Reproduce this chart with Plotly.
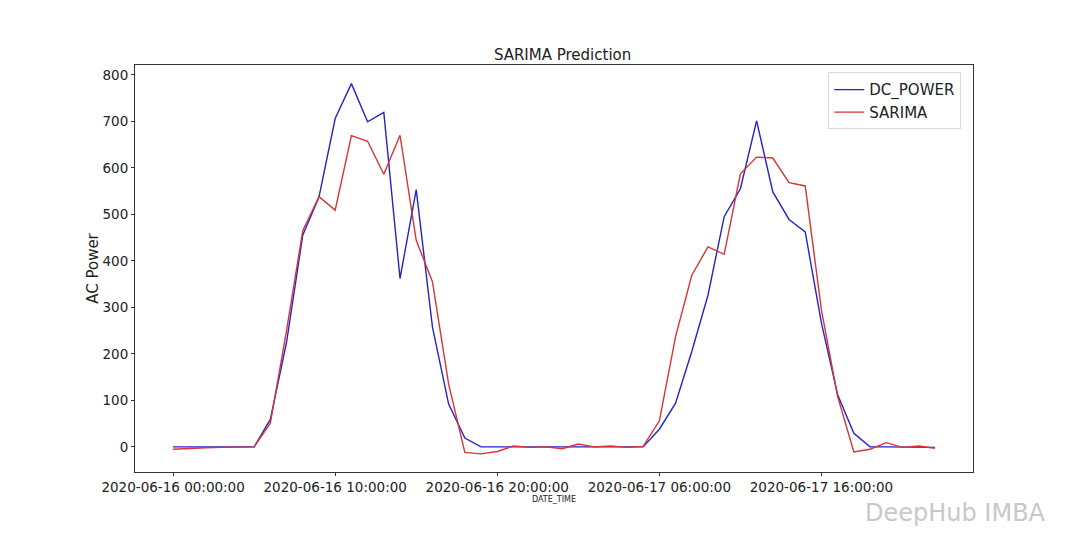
import pandas as pd
import plotly.graph_objects as go

hours = list(range(48))
timestamps = [pd.Timestamp("2020-06-16 00:00:00") + pd.Timedelta(hours=h) for h in hours]

dc_power = [0, 0, 0, 0, 0, 0, 59, 225, 455, 537, 706, 781, 699, 719, 362, 553,
            258, 92, 19, 0, 0, 0, 0, 0, 0, 0, 0, 0, 0, 0, 38, 94,
            205, 326, 495, 555, 701, 548, 489, 462, 266, 112, 29, 0, 0, 0, 0, -1]
sarima = [-5, -3, -2, -1, -1, 0, 51, 250, 465, 538, 509, 669, 657, 586, 670, 444,
          355, 135, -12, -15, -10, 2, -1, 0, -4, 6, 0, 2, -1, 1, 56, 237,
          369, 430, 414, 587, 623, 621, 568, 561, 294, 108, -11, -5, 9, -1, 2, -3]

tick_vals = [pd.Timestamp(s) for s in ["2020-06-16 00:00:00", "2020-06-16 10:00:00",
                                       "2020-06-16 20:00:00", "2020-06-17 06:00:00",
                                       "2020-06-17 16:00:00"]]
tick_text = [t.strftime("%Y-%m-%d %H:%M:%S") for t in tick_vals]
y_ticks = [0, 100, 200, 300, 400, 500, 600, 700, 800]

font_family = "DejaVu Sans, sans-serif"

fig = go.Figure()
fig.add_trace(go.Scatter(x=timestamps, y=dc_power, mode="lines", name="DC_POWER",
                         line=dict(color="#2323cc", width=1.4)))
fig.add_trace(go.Scatter(x=timestamps, y=sarima, mode="lines", name="SARIMA",
                         line=dict(color="#d83434", width=1.4)))

x0 = timestamps[0] - pd.Timedelta(hours=2.35)
x1 = timestamps[-1] + pd.Timedelta(hours=2.35)

fig.update_layout(
    width=1080, height=540,
    paper_bgcolor="white", plot_bgcolor="white",
    margin=dict(l=127, r=115, t=57, b=76),
    font=dict(family=font_family, color="#222222"),
    title=dict(text="SARIMA Prediction", x=0.5135, xanchor="center", y=0.913, yanchor="middle",
               font=dict(size=15, color="#222222")),
    showlegend=True,
    legend=dict(x=0.986, y=0.982, xanchor="right", yanchor="top",
                bgcolor="white", bordercolor="#d8d8d8", borderwidth=1,
                font=dict(size=15, color="#222222"), tracegroupgap=0),
    xaxis=dict(range=[x0, x1], tickmode="array", tickvals=tick_vals, ticktext=tick_text,
               showgrid=False, zeroline=False, showline=True, linecolor="#333333", linewidth=1,
               mirror=True, ticks="outside", ticklen=3, tickcolor="#333333",
               tickfont=dict(size=13.5, color="#222222"),
               title=dict(text="DATE_TIME", font=dict(size=8, color="#222222"), standoff=0)),
    yaxis=dict(range=[-54, 821], tickmode="array", tickvals=y_ticks,
               showgrid=False, zeroline=False, showline=True, linecolor="#333333", linewidth=1,
               mirror=True, ticks="outside", ticklen=3, tickcolor="#333333",
               tickfont=dict(size=13.5, color="#222222"),
               title=dict(text="AC Power", font=dict(size=15, color="#222222"), standoff=0)),
)

fig.add_annotation(text="DeepHub IMBA", xref="paper", yref="paper", x=1.09, y=-0.1,
                   xanchor="right", yanchor="middle", showarrow=False,
                   font=dict(size=24, color="#c8c8c8", family=font_family))

fig.write_html("out.html")
